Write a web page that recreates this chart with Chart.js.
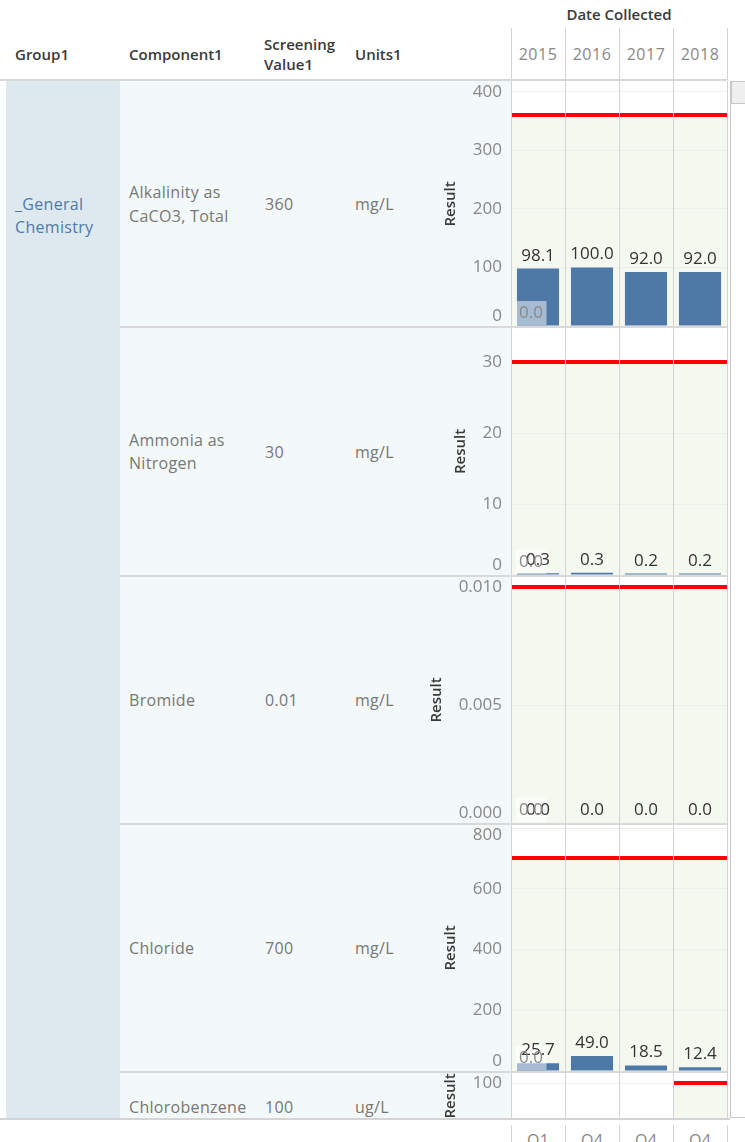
<!DOCTYPE html>
<html>
<head>
<meta charset="utf-8">
<script src="https://cdn.jsdelivr.net/npm/chart.js@4"></script>
<style>
  body { margin: 0; width: 745px; height: 1142px; overflow: hidden; background: #fff; position: relative; font-family: 'Open Sans', sans-serif; }
  .t { position: absolute; white-space: nowrap; }
  .hd { font-weight: 600; font-size: 15px; color: #3a3a3a; }
  .body { font-size: 16px; color: #777; letter-spacing: 0.3px; }
  .pane { position: absolute; overflow: hidden; }
</style>
</head>
<body>
<script>
// data
const years = ['2015', '2016', '2017', '2018']
const quarters = ['Q1', 'Q4', 'Q4', 'Q4']
const groupName = ['_General', 'Chemistry']
const components = [['Alkalinity as', 'CaCO3, Total'], ['Ammonia as', 'Nitrogen'], ['Bromide'], ['Chloride'], ['Chlorobenzene']]
const screeningValues = [360, 30, 0.01, 700, 100]
const screeningText = ['360', '30', '0.01', '700', '100']
const units = ['mg/L', 'mg/L', 'mg/L', 'mg/L', 'ug/L']

const alkalinity = [98.1, 100.0, 92.0, 92.0]
const ammonia = [0.26, 0.3, 0.2, 0.2]
const bromide = [0, 0, 0, 0]
const chloride = [25.7, 49.0, 18.5, 12.4]
const chlorobenzene = [null, null, null, 0]
const results = [alkalinity, ammonia, bromide, chloride, chlorobenzene]

// second 2015 sample shown as "0.0"
const extra2015 = [0, 0, 0, 0, null]

// y axis per row
const axisMax = [418, 35, 0.01047, 813.6, 104.7]
const tickValues = [
  [0, 100, 200, 300, 400],
  [0, 10, 20, 30],
  [0, 0.005, 0.01],
  [0, 200, 400, 600, 800],
  [0, 100],
]
const tickDecimals = [0, 0, 3, 0, 0]

// layout
const rowTop = [81, 327, 576, 824, 1072]
const rowHeight = [246, 249, 248, 248, 248]
const visibleBottom = 1120
const colLines = [511, 565, 619, 673, 727]

const addText = (x, y, str, cls, extra = '') => {
  const d = document.createElement('div')
  d.className = 't ' + cls
  d.style.cssText += `left:${x}px;top:${y - 11}px;line-height:22px;${extra}`
  d.textContent = str
  document.body.appendChild(d)
  return d
}
const addBox = (x, y, w, h, css) => {
  const d = document.createElement('div')
  d.style.cssText = `position:absolute;left:${x}px;top:${y}px;width:${w}px;height:${h}px;${css}`
  document.body.appendChild(d)
  return d
}

// backgrounds
addBox(6, 81, 114, visibleBottom - 81, 'background:#dde8ef')
addBox(120, 81, 607, visibleBottom - 81, 'background:#f3f8f9')

// header
addText(0, 14, 'Date Collected', 'hd', 'width:1238px;text-align:center')
addText(15, 54, 'Group1', 'hd')
addText(129, 54, 'Component1', 'hd')
addText(264, 44, 'Screening', 'hd')
addText(264, 64, 'Value1', 'hd')
addText(355, 54, 'Units1', 'hd')
years.forEach((yr, i) => {
  const cx = (colLines[i] + colLines[i + 1]) / 2
  addText(cx - 40, 54, yr, 'body', 'width:80px;text-align:center;color:#888;letter-spacing:0.5px')
})
colLines.forEach((x) => addBox(x, 28, 1, 52, 'background:#d4d4d4'))
addBox(0, 79, 727, 2, 'background:#d8d8d8')

// row labels
addText(15, 204, groupName[0], 'body', 'color:#4f7aa8')
addText(15, 227, groupName[1], 'body', 'color:#4f7aa8')
components.forEach((lines, r) => {
  const bottom = Math.min(rowTop[r] + rowHeight[r], visibleBottom)
  let cy = (rowTop[r] + bottom) / 2
  if (r === 4) cy = 1107
  lines.forEach((l, k) => addText(129, cy + (k - (lines.length - 1) / 2) * 23.5, l, 'body'))
  addText(265, cy, screeningText[r], 'body')
  addText(355, cy, units[r], 'body')
})

// draws the pane decorations: shading, reference line, column lines, labels, ticks, title
const paneDecor = {
  id: 'paneDecor',
  beforeDraw(chart, args, opts) {
    const { ctx, chartArea: a, scales: { y } } = chart
    const w = (a.right - a.left) / years.length
    const vals = results[opts.row]
    const ry = y.getPixelForValue(screeningValues[opts.row])
    ctx.save()
    ctx.fillStyle = '#ffffff'
    ctx.fillRect(a.left, 0, a.right - a.left, chart.height)
    vals.forEach((v, i) => {
      if (v === null) return
      ctx.fillStyle = '#f5f8ef'
      ctx.fillRect(a.left + i * w, ry, w, chart.height - ry)
    })
    ctx.restore()
  },
  afterDatasetsDraw(chart, args, opts) {
    const { ctx, chartArea: a, scales: { y } } = chart
    const r = opts.row
    const w = (a.right - a.left) / years.length
    const vals = results[r]
    const ry = y.getPixelForValue(screeningValues[r])
    ctx.save()
    // column lines
    ctx.fillStyle = '#d4d4d4'
    for (let k = 0; k <= years.length; k++) {
      ctx.fillRect(Math.round(a.left + k * w), 0, 1, chart.height)
    }
    // reference line
    ctx.fillStyle = '#ff0000'
    vals.forEach((v, i) => {
      if (v === null) return
      ctx.fillRect(Math.round(a.left + i * w) + 1, Math.round(ry) - 2, w - 1, 4)
    })
    // second 2015 sample label box
    const zero = y.getPixelForValue(0)
    const ex = extra2015[r]
    let exEl = null
    if (ex !== null) {
      exEl = chart.getDatasetMeta(1).data[0]
      ctx.fillStyle = 'rgba(255,255,255,0.5)'
      ctx.fillRect(exEl.x - 22.5, zero - 25, 31, 24)
    }
    // value labels
    ctx.font = '17px "Open Sans"'
    ctx.textAlign = 'center'
    ctx.textBaseline = 'alphabetic'
    ctx.fillStyle = '#333'
    chart.getDatasetMeta(0).data.forEach((el, i) => {
      if (vals[i] === null) return
      ctx.fillText(vals[i].toFixed(1), el.x, el.y - 8)
    })
    if (exEl) {
      ctx.fillStyle = '#888'
      ctx.fillText(ex.toFixed(1), exEl.x - 7, exEl.y - 8)
    }
    // y ticks, kept inside the pane
    ctx.font = '17px "Open Sans"'
    ctx.textAlign = 'right'
    ctx.textBaseline = 'middle'
    ctx.fillStyle = '#888'
    let maxW = 0
    y.ticks.forEach((t) => {
      const s = t.value.toFixed(tickDecimals[r])
      maxW = Math.max(maxW, ctx.measureText(s).width)
      const py = Math.min(Math.max(y.getPixelForValue(t.value), a.top + 11), a.bottom - 10)
      ctx.fillText(s, a.left - 9, py)
    })
    // axis title
    const visH = Math.min(chart.height, opts.visible)
    ctx.translate(a.left - 9 - maxW - 22, (a.top + visH) / 2)
    ctx.rotate(-Math.PI / 2)
    ctx.font = '600 15px "Open Sans"'
    ctx.textAlign = 'center'
    ctx.fillStyle = '#3a3a3a'
    ctx.fillText('Result', 0, 0)
    ctx.restore()
  },
}

results.forEach((vals, r) => {
  const holder = document.createElement('div')
  holder.className = 'pane'
  const visible = Math.min(rowHeight[r], visibleBottom - rowTop[r])
  holder.style.cssText += `left:430px;top:${rowTop[r]}px;width:298px;height:${visible}px`
  const canvas = document.createElement('canvas')
  canvas.width = 298
  canvas.height = rowHeight[r]
  holder.appendChild(canvas)
  document.body.appendChild(holder)

  new Chart(canvas, {
    type: 'bar',
    data: {
      labels: years,
      datasets: [
        {
          label: 'Result',
          data: vals,
          backgroundColor: '#4e79a7',
          categoryPercentage: 1,
          barPercentage: 0.78,
          grouped: false,
        },
        {
          label: 'Result 2015 second sample',
          data: [extra2015[r], null, null, null],
          backgroundColor: '#4e79a7',
          categoryPercentage: 1,
          barPercentage: 0.78,
          grouped: false,
        },
      ],
    },
    options: {
      responsive: false,
      animation: false,
      devicePixelRatio: 1,
      layout: { padding: { top: 0, bottom: 1, left: 0, right: 1 } },
      plugins: {
        legend: { display: false },
        tooltip: { enabled: false },
        paneDecor: { row: r, visible: visible },
      },
      scales: {
        x: { display: false },
        y: {
          min: 0,
          max: axisMax[r],
          ticks: { display: false },
          afterBuildTicks: (scale) => {
            scale.ticks = tickValues[r].map((v) => ({ value: v }))
          },
          grid: { color: '#efefef', drawTicks: false },
          border: { display: false },
          afterFit: (scale) => { scale.width = 81 },
        },
      },
    },
    plugins: [paneDecor],
  })
})

// row separators and borders on top
rowTop.slice(1).forEach((y) => addBox(120, y - 1, 607, 2, 'background:#d9d9d9'))
addBox(0, visibleBottom - 2, 730, 2, 'background:#d4d4d4')

// scrollbar
addBox(730, 81, 1, visibleBottom - 83, 'background:#c8c8c8')
addBox(730, visibleBottom - 3, 15, 1, 'background:#c8c8c8')
addBox(731, 81, 13, 21, 'background:#efefef;border:1px solid #c8c8c8')

// bottom axis
colLines.forEach((x) => addBox(x, 1125, 1, 17, 'background:#d4d4d4'))
quarters.forEach((q, i) => {
  const cx = (colLines[i] + colLines[i + 1]) / 2
  addText(cx - 30, 1140, q, 'body', 'width:60px;text-align:center;color:#888')
})
</script>
</body>
</html>
